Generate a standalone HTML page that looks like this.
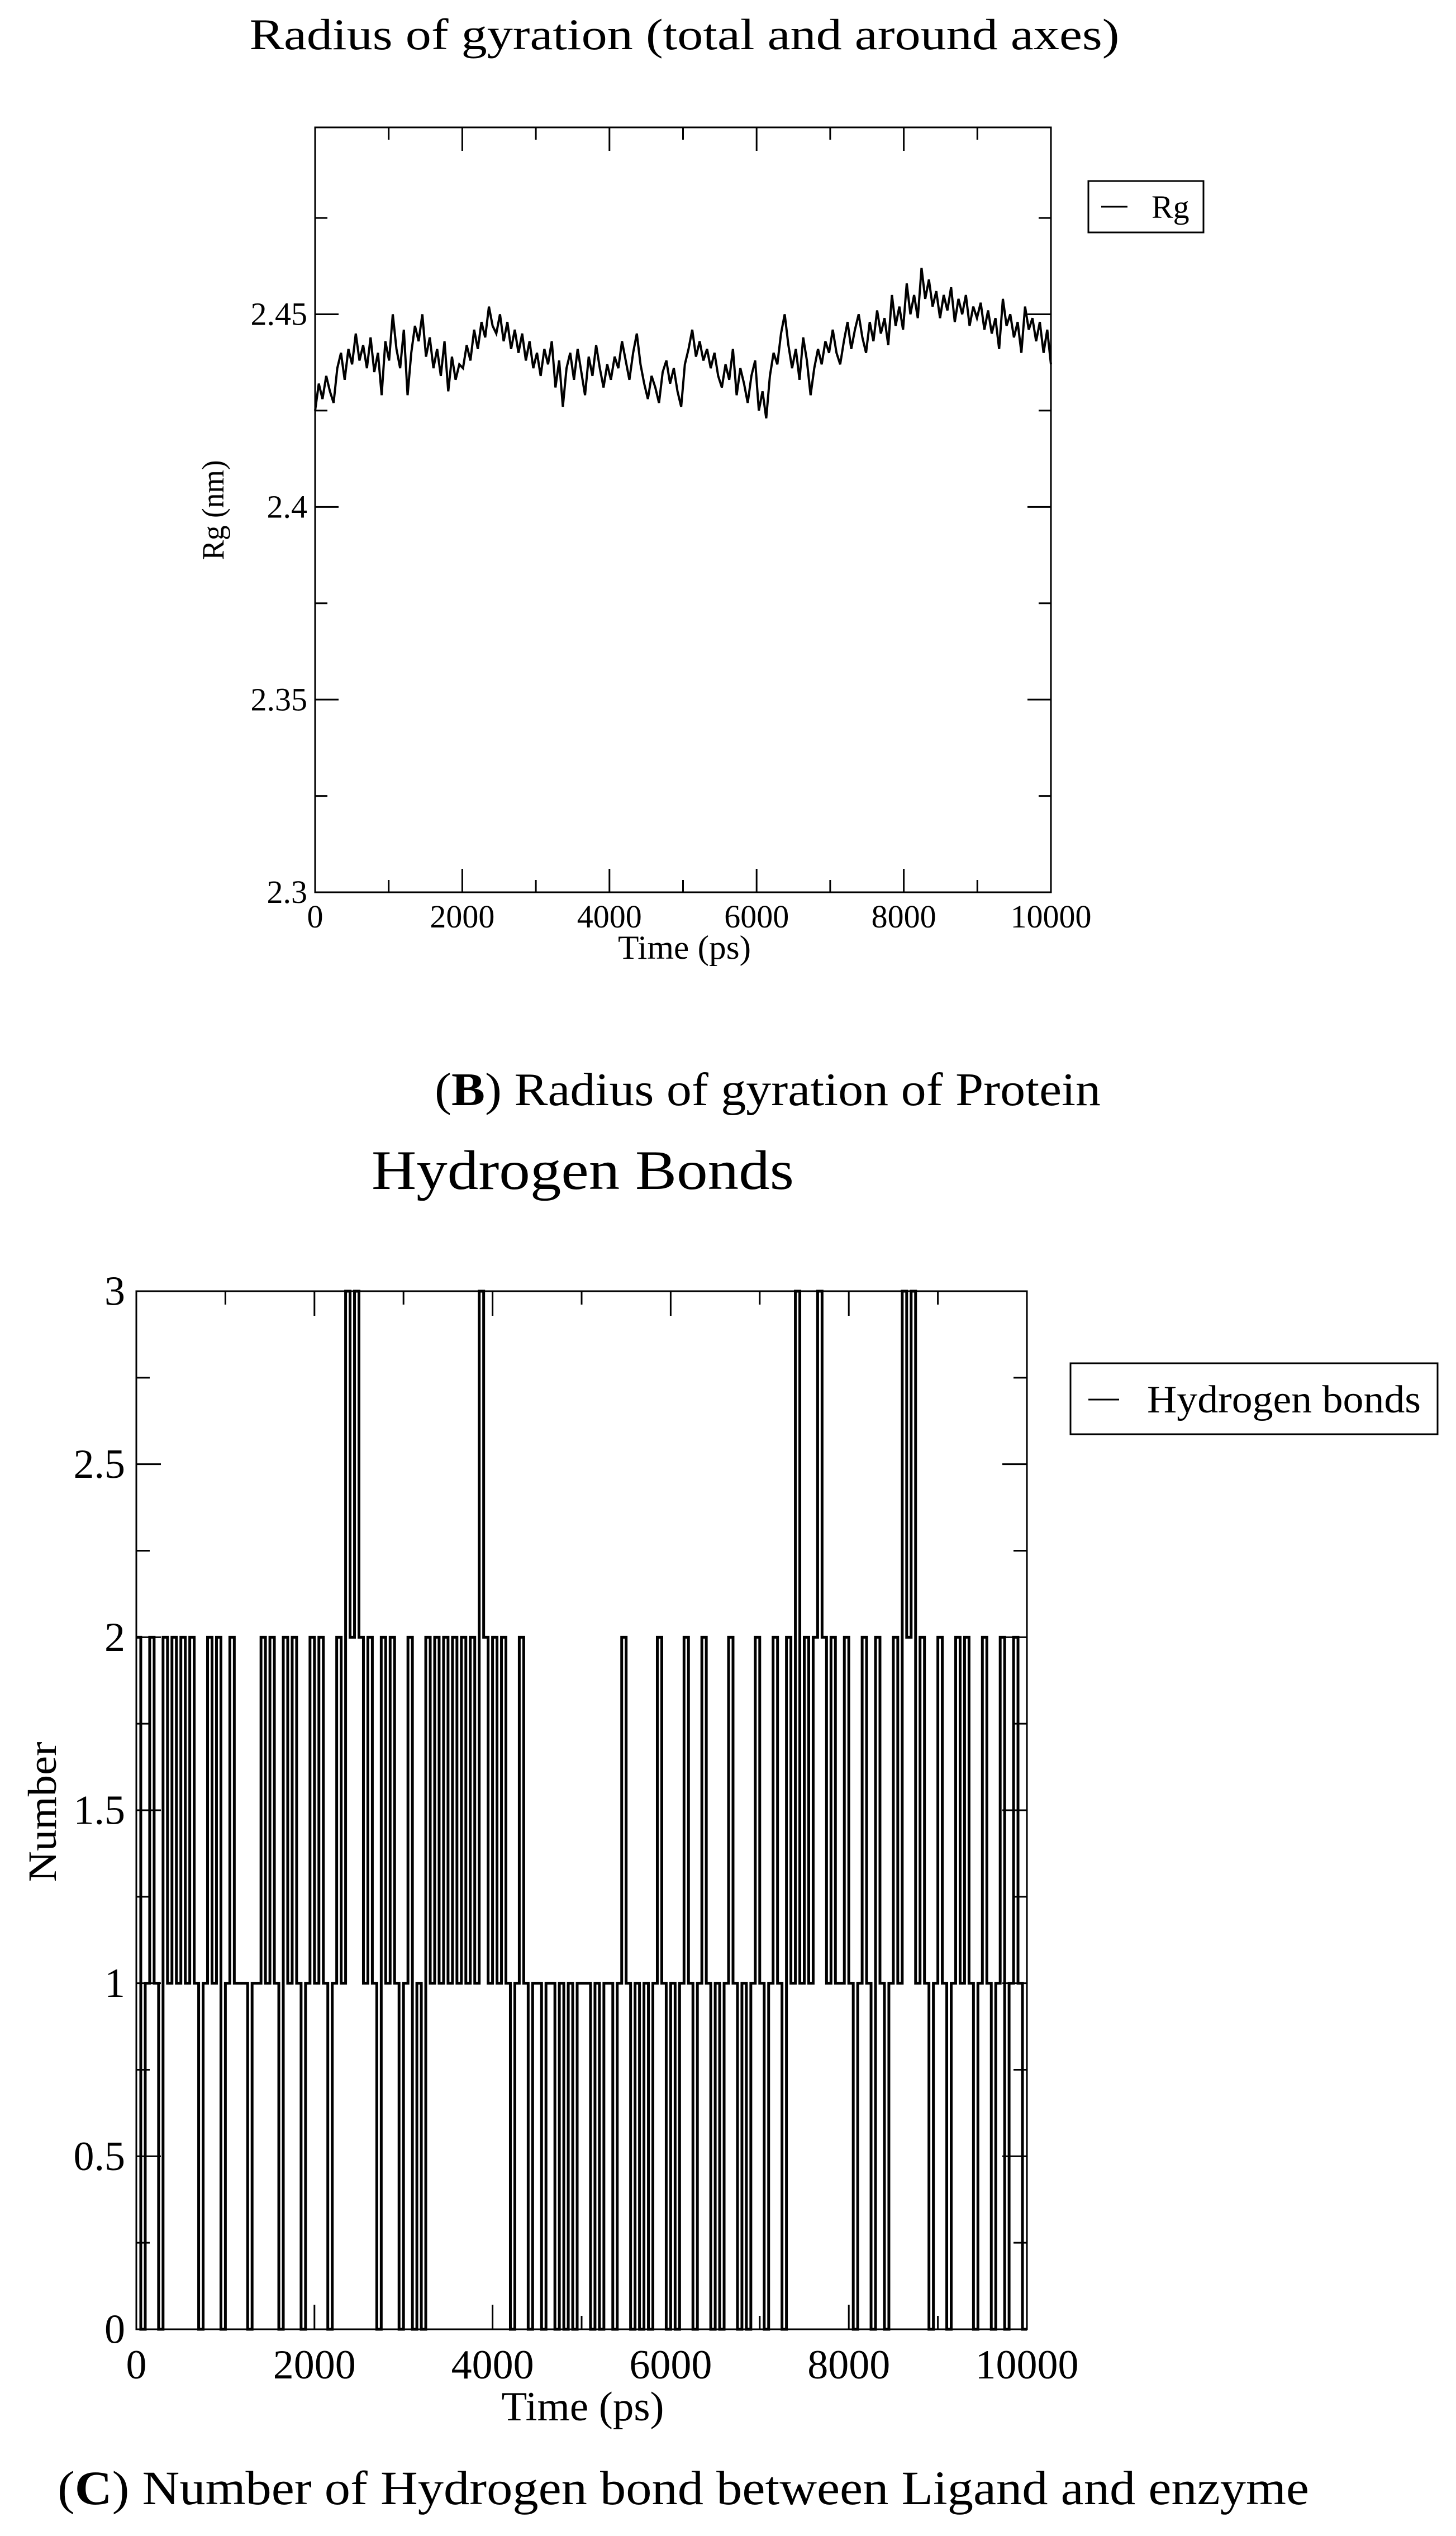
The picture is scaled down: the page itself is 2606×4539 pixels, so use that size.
<!DOCTYPE html>
<html><head><meta charset="utf-8"><style>
html,body{margin:0;padding:0;background:#fff;}
svg{display:block;}
text{font-family:"Liberation Serif",serif;fill:#000;}
</style></head><body>
<svg id="fig" width="2606" height="4539" viewBox="0 0 2606 4539" xmlns="http://www.w3.org/2000/svg">
<rect x="0" y="0" width="2606" height="4539" fill="#fff"/>
<g id="chartB">
<text x="1225" y="88" font-size="78" text-anchor="middle" textLength="1557" lengthAdjust="spacingAndGlyphs">Radius of gyration (total and around axes)</text>
<text transform="translate(400,913) rotate(-90)" font-size="56" text-anchor="middle" textLength="179" lengthAdjust="spacingAndGlyphs">Rg (nm)</text>
<text x="1225" y="1716" font-size="60" text-anchor="middle" textLength="238" lengthAdjust="spacingAndGlyphs">Time (ps)</text>
<rect x="1948" y="324" width="206" height="92" fill="none" stroke="#000" stroke-width="3"/>
<line x1="1971" y1="370" x2="2018" y2="370" stroke="#000" stroke-width="3"/>
<text x="2061" y="390" font-size="58">Rg</text>
<text x="1374" y="1978" font-size="84" text-anchor="middle" textLength="1192" lengthAdjust="spacingAndGlyphs">(<tspan font-weight="bold">B</tspan>) Radius of gyration of Protein</text>
</g>
<g id="chartC">
<text x="1043" y="2128" font-size="100" text-anchor="middle" textLength="756" lengthAdjust="spacingAndGlyphs">Hydrogen Bonds</text>
<text transform="translate(100,3243) rotate(-90)" font-size="72" text-anchor="middle" textLength="251" lengthAdjust="spacingAndGlyphs">Number</text>
<text x="1043" y="4332" font-size="74" text-anchor="middle" textLength="291" lengthAdjust="spacingAndGlyphs">Time (ps)</text>
<rect x="1916" y="2440" width="657" height="127" fill="none" stroke="#000" stroke-width="3"/>
<line x1="1948" y1="2505" x2="2003" y2="2505" stroke="#000" stroke-width="3"/>
<text x="2053" y="2528" font-size="70" textLength="490" lengthAdjust="spacingAndGlyphs">Hydrogen bonds</text>
<text x="1223" y="4482" font-size="86" text-anchor="middle" textLength="2240" lengthAdjust="spacingAndGlyphs">(<tspan font-weight="bold">C</tspan>) Number of Hydrogen bond between Ligand and enzyme</text>
</g>
</svg>
<script>
const rgTime = [0, 10000];
const rgValues = [
2.425,2.432,2.428,2.434,2.430,2.427,2.436,2.440,2.433,2.441,2.437,2.445,2.438,2.442,2.436,2.444,2.435,2.440,2.429,2.443,
2.438,2.450,2.441,2.436,2.446,2.429,2.440,2.447,2.443,2.450,2.439,2.444,2.436,2.441,2.434,2.443,2.430,2.439,2.433,2.437,
2.436,2.442,2.438,2.446,2.441,2.448,2.444,2.452,2.447,2.445,2.450,2.443,2.448,2.441,2.446,2.440,2.445,2.438,2.443,2.436,
2.440,2.434,2.441,2.437,2.443,2.431,2.438,2.426,2.436,2.440,2.433,2.441,2.435,2.429,2.439,2.434,2.442,2.436,2.431,2.437,
2.433,2.439,2.436,2.443,2.438,2.433,2.440,2.445,2.437,2.432,2.428,2.434,2.431,2.427,2.435,2.438,2.432,2.436,2.430,2.426,
2.437,2.441,2.446,2.439,2.443,2.438,2.441,2.436,2.440,2.434,2.431,2.437,2.433,2.441,2.429,2.436,2.432,2.427,2.434,2.438,
2.425,2.430,2.423,2.434,2.440,2.437,2.445,2.450,2.442,2.436,2.441,2.433,2.444,2.438,2.429,2.436,2.441,2.437,2.443,2.440,
2.446,2.440,2.437,2.443,2.448,2.441,2.446,2.450,2.444,2.440,2.448,2.443,2.451,2.445,2.449,2.442,2.455,2.447,2.452,2.446,
2.458,2.450,2.455,2.449,2.462,2.454,2.459,2.452,2.456,2.449,2.455,2.451,2.457,2.448,2.454,2.450,2.455,2.447,2.452,2.449,
2.453,2.446,2.451,2.445,2.449,2.441,2.454,2.447,2.450,2.444,2.448,2.440,2.452,2.446,2.449,2.443,2.448,2.440,2.446,2.437];
const rgXTicks = [0,2000,4000,6000,8000,10000];
const rgYTicks = [2.3,2.35,2.4,2.45];
const rgYLabels = ["2.3","2.35","2.4","2.45"];

const hbTime = [0, 10000];
const hbValues = [
2,0,1,2,1,0,2,1,2,1, 2,1,2,1,0,1,2,1,2,0, 1,2,1,1,1,0,1,1,2,1, 2,1,0,2,1,2,1,0,1,2,
1,2,1,0,1,2,1,3,2,3, 2,1,2,1,0,2,1,2,1,0, 1,2,0,1,0,2,1,2,1,2, 1,2,1,2,1,2,1,3,2,1,
2,1,2,1,0,1,2,1,0,1, 1,0,1,1,0,1,0,1,0,1, 1,1,0,1,0,1,1,0,1,2, 1,0,1,0,1,0,1,2,1,0,
1,0,1,2,1,0,1,2,1,0, 1,0,1,2,1,0,1,0,1,2, 1,0,1,2,1,0,2,1,3,1, 2,1,2,3,2,1,2,1,1,2,
1,0,1,2,1,0,2,1,0,1, 2,1,3,2,3,1,2,1,0,1, 2,1,0,1,2,1,2,1,0,1, 2,1,0,1,2,0,1,2,1,0];
const hbXTicks = [0,2000,4000,6000,8000,10000];
const hbYTicks = [0,0.5,1,1.5,2,2.5,3];
const hbYLabels = ["0","0.5","1","1.5","2","2.5","3"];

const NS = "http://www.w3.org/2000/svg";
function mk(parent, tag, attrs){const e=document.createElementNS(NS,tag);for(const k in attrs)e.setAttribute(k,attrs[k]);parent.appendChild(e);return e;}

function drawChart(g, cfg){
  const {L,R,T,B,xmin,xmax,ymin,ymax,xTicks,xMinor,yTicks,yLabels,yMinor,fs,maj,mnr,lw,xLabY,yLabX,step,values,time,name} = cfg;
  const sx = v => L + (v-xmin)/(xmax-xmin)*(R-L);
  const sy = v => B - (v-ymin)/(ymax-ymin)*(B-T);
  const n = values.length;
  const dt = (time[1]-time[0])/(step ? n : n-1);
  let d = "";
  for(let i=0;i<n;i++){
    const x = sx(time[0]+i*dt), y = sy(values[i]);
    if(step){
      d += (i===0? "M"+x+","+y : "L"+x+","+y);
      d += "L"+sx(time[0]+(i+1)*dt)+","+y;
    } else {
      d += (i===0?"M":"L")+x.toFixed(1)+","+y.toFixed(1);
    }
  }
  const p = mk(g,"path",{d:d,fill:"none",stroke:"#000","stroke-width":lw,"stroke-linejoin":"miter"});
  
  
  const fr = mk(g,"rect",{x:L,y:T,width:R-L,height:B-T,fill:"none",stroke:"#000","stroke-width":3});
  
  
  xTicks.forEach(v=>{
    const x=sx(v);
    const t1=mk(g,"line",{x1:x,y1:B,x2:x,y2:B-maj,stroke:"#000","stroke-width":3});
    
    
    const t2=mk(g,"line",{x1:x,y1:T,x2:x,y2:T+maj,stroke:"#000","stroke-width":3});
    
    
    const tx=mk(g,"text",{x:x,y:xLabY,"font-size":fs,"text-anchor":"middle"});
    tx.textContent=String(v);
    
    
  });
  xMinor.forEach(v=>{
    const x=sx(v);
    const a=mk(g,"line",{x1:x,y1:B,x2:x,y2:B-mnr,stroke:"#000","stroke-width":3});
    
    
    const b=mk(g,"line",{x1:x,y1:T,x2:x,y2:T+mnr,stroke:"#000","stroke-width":3});
    
    
  });
  yTicks.forEach((v,i)=>{
    const y=sy(v);
    const a=mk(g,"line",{x1:L,y1:y,x2:L+maj,y2:y,stroke:"#000","stroke-width":3});
    
    
    const b=mk(g,"line",{x1:R,y1:y,x2:R-maj,y2:y,stroke:"#000","stroke-width":3});
    
    
    const tx=mk(g,"text",{x:yLabX,y:y+fs*0.33,"font-size":fs,"text-anchor":"end"});
    tx.textContent=yLabels[i];
    
    
  });
  yMinor.forEach(v=>{
    const y=sy(v);
    const a=mk(g,"line",{x1:L,y1:y,x2:L+mnr,y2:y,stroke:"#000","stroke-width":3});
    
    
    const b=mk(g,"line",{x1:R,y1:y,x2:R-mnr,y2:y,stroke:"#000","stroke-width":3});
    
    
  });
}

drawChart(document.getElementById("chartB"), {
  L:564,R:1881,T:228,B:1597,xmin:0,xmax:10000,ymin:2.3,ymax:2.4985,
  xTicks:rgXTicks,xMinor:[1000,3000,5000,7000,9000],yTicks:rgYTicks,yLabels:rgYLabels,
  yMinor:[2.325,2.375,2.425,2.475],fs:58,maj:42,mnr:22,lw:4,xLabY:1660,yLabX:550,
  step:false,values:rgValues,time:rgTime,name:"rg"});

drawChart(document.getElementById("chartC"), {
  L:244,R:1838,T:2311,B:4169,xmin:0,xmax:10000,ymin:0,ymax:3,
  xTicks:hbXTicks,xMinor:[1000,3000,5000,7000,9000],yTicks:hbYTicks,yLabels:hbYLabels,
  yMinor:[0.25,0.75,1.25,1.75,2.25,2.75],fs:74,maj:44,mnr:24,lw:5,xLabY:4257,yLabX:224,
  step:true,values:hbValues,time:hbTime,name:"hydrogen-bonds"});
</script>
</body></html>
